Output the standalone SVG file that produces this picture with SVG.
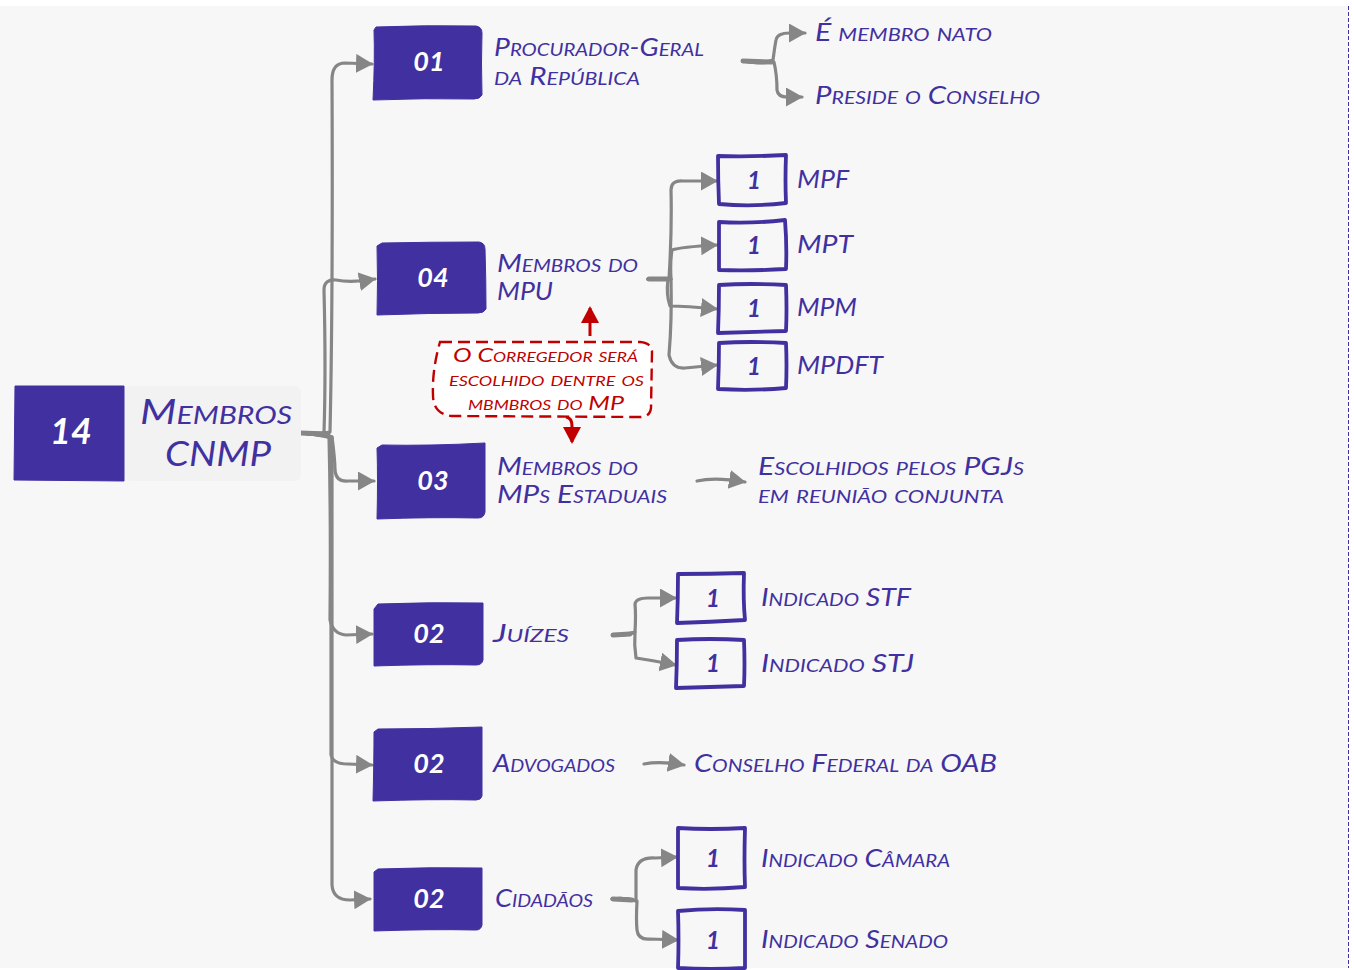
<svg xmlns="http://www.w3.org/2000/svg" width="1354" height="970" viewBox="0 0 1354 970">
<style>
.fill{fill:#4130a0;stroke:#4130a0;stroke-width:1}
.box{fill:none;stroke:#4130a0;stroke-width:3.8;stroke-linejoin:round}
.c{fill:none;stroke:#868686;stroke-width:3.2;stroke-linecap:round;stroke-linejoin:round;marker-end:url(#ah)}
.j{fill:none;stroke:#868686;stroke-width:5;stroke-linecap:round}
.r{fill:none;stroke:#c00000;stroke-width:3;marker-end:url(#rh)}
text{font-family:"Lato","Open Sans","Liberation Sans",sans-serif;font-style:italic;font-variant:small-caps;fill:#4130a0;font-size:25px}
.n{fill:#fff;font-weight:700;text-anchor:middle;font-variant:normal;font-size:27px}
.d{font-weight:700;text-anchor:middle;font-variant:normal;font-size:24px}
.t{font-size:35px;font-weight:400}
.rt{fill:#c00000;font-size:20px}
</style>
<defs>
<marker id="ah" markerUnits="userSpaceOnUse" markerWidth="20" markerHeight="22" refX="16" refY="9.500" orient="auto"><path d="M0 0L17 9.500L0 19Z" fill="#868686"/></marker>
<marker id="rh" markerUnits="userSpaceOnUse" markerWidth="20" markerHeight="20" refX="15" refY="9" orient="auto"><path d="M0 0L17 9L0 18Z" fill="#c00000"/></marker>
</defs>
<rect x="0" y="6" width="1348" height="962" fill="#f7f7f7"/>
<line x1="1348.500" y1="6" x2="1348.500" y2="968" stroke="#4130a0" stroke-width="1" stroke-dasharray="4 2"/>
<g id="connectors">
<path class="c" d="M300 433Q318 435 330 432Q333 300 332 80Q332 63 345 63L372 64"/>
<path class="c" d="M300 433Q315 434 324 433Q326 370 324 290Q324 279 336 280Q352 283 375 279"/>
<path class="c" d="M300 433Q322 432 332 437Q335 460 335 470Q336 482 348 481L374 481"/>
<path class="c" d="M300 433Q320 435 329 436Q331 520 330 620Q333 634 346 635L372 634"/>
<path class="c" d="M300 433Q320 435 331 438Q331 600 331 755Q333 764 348 764L372 765"/>
<path class="c" d="M300 433Q320 435 332 437Q331 700 332 885Q333 900 350 900L370 899"/>
<path class="c" d="M743 61Q760 65 773 60Q775 45 776 40Q777 33 790 33L805 33"/>
<path class="c" d="M743 61Q760 64 774 62Q777 75 777 90Q778 98 790 97L802 97"/>
<path class="c" d="M648 279L669 279Q672 230 671 190Q671 180 683 181L717 181"/>
<path class="c" d="M648 279L671 279Q670 262 672 250Q680 247 717 245"/>
<path class="c" d="M648 279L668 279Q666 295 670 306Q685 306 717 309"/>
<path class="c" d="M648 279L671 279Q672 320 669 355Q672 369 685 368L717 365"/>
<path class="c" d="M613 635Q625 636 635 632Q636 615 635 604Q636 598 648 598L676 598"/>
<path class="c" d="M613 635Q625 636 635 632Q634 645 636 658Q650 660 676 665"/>
<path class="c" d="M697 481Q715 477 745 482"/>
<path class="c" d="M644 764Q660 761 684 765"/>
<path class="c" d="M612 899Q625 897 636 901Q636 880 636 870Q638 857 655 858L677 857"/>
<path class="c" d="M612 899Q625 897 637 901Q636 920 637 930Q638 940 650 939L678 940"/>
<path class="j" d="M300 433L328 434M743 61L772 62M649 279L670 279M613 635L630 634M613 899L632 900"/>
<path class="r" d="M590 336L590 308"/>
<path class="r" d="M566 417Q572 418 572 426L572 442"/>
</g>
<g id="root">
<rect x="124" y="386" width="177" height="95" rx="7" fill="#f2f2f2"/>
<path class="fill" d="M15 386L124 386L124 481L14 480Z"/>
<text class="n" x="71" y="444" style="font-size:36px">14</text>
<text class="t" x="140" y="424" textLength="152" lengthAdjust="spacingAndGlyphs">Membros</text>
<text class="t" x="165" y="466" textLength="106" lengthAdjust="spacingAndGlyphs">CNMP</text>
</g>
<g id="n01"><path class="fill" d="M376 27Q425 25 476 26Q482 27 482 33Q481 62 482 95Q480 99 474 99Q425 98 373 100Q375 60 374 30Z"/><text class="n" x="429" y="71">01</text>
<text x="494" y="56" textLength="210" lengthAdjust="spacingAndGlyphs">Procurador-Geral</text><text x="494" y="85" textLength="146" lengthAdjust="spacingAndGlyphs">da República</text></g>
<g id="n04"><path class="fill" d="M382 243Q430 242 479 242Q485 243 485 249Q486 280 486 309Q484 313 478 313Q430 313 377 315Q378 280 377 246Z"/><text class="n" x="433" y="287">04</text>
<text x="497" y="272" textLength="141" lengthAdjust="spacingAndGlyphs">Membros do</text><text x="497" y="300" textLength="56" lengthAdjust="spacingAndGlyphs">MPU</text></g>
<g id="n03"><path class="fill" d="M382 445Q430 446 485 443Q485 480 485 512Q484 518 478 518Q430 517 377 519Q378 480 377 448Z"/><text class="n" x="433" y="490">03</text>
<text x="497" y="475" textLength="141" lengthAdjust="spacingAndGlyphs">Membros do</text><text x="497" y="503" textLength="170" lengthAdjust="spacingAndGlyphs">MPs Estaduais</text></g>
<g id="n02a"><path class="fill" d="M378 604Q430 602 483 603Q483 630 483 660Q482 665 476 665Q430 664 374 666Q374 630 374 609Z"/><text class="n" x="429" y="643">02</text>
<text x="493" y="642" textLength="76" lengthAdjust="spacingAndGlyphs">Juízes</text></g>
<g id="n02b"><path class="fill" d="M378 729Q430 729 482 727Q482 760 482 796Q481 800 476 800Q430 799 373 801Q374 760 374 732Z"/><text class="n" x="429" y="773">02</text>
<text x="493" y="772" textLength="122" lengthAdjust="spacingAndGlyphs">Advogados</text></g>
<g id="n02c"><path class="fill" d="M378 869Q430 867 482 868Q482 900 482 925Q481 930 476 930Q430 929 374 931Q374 900 374 872Z"/><text class="n" x="429" y="908">02</text>
<text x="495" y="907" textLength="98" lengthAdjust="spacingAndGlyphs">Cidadãos</text></g>
<g id="l1"><text x="815" y="41" textLength="177" lengthAdjust="spacingAndGlyphs">É membro nato</text></g>
<g id="l2"><text x="815" y="104" textLength="225" lengthAdjust="spacingAndGlyphs">Preside o Conselho</text></g>
<g id="mpf"><path class="box" d="M718 156Q750 157 786 155Q785 180 786 203Q752 207 719 204Q718 180 718 156Z"/><text class="d" x="754" y="189">1</text><text x="797" y="188" textLength="52" lengthAdjust="spacingAndGlyphs">MPF</text></g>
<g id="mpt"><path class="box" d="M719 222Q750 224 785 220Q787 245 786 269Q752 271 719 270Q719 245 719 222Z"/><text class="d" x="754" y="254">1</text><text x="797" y="253" textLength="56" lengthAdjust="spacingAndGlyphs">MPT</text></g>
<g id="mpm"><path class="box" d="M719 285Q750 283 786 285Q787 310 786 331Q752 332 718 333Q719 310 719 285Z"/><text class="d" x="754" y="317">1</text><text x="797" y="316" textLength="60" lengthAdjust="spacingAndGlyphs">MPM</text></g>
<g id="mpdft"><path class="box" d="M719 343Q750 341 786 343Q787 365 786 388Q752 391 718 389Q719 365 719 343Z"/><text class="d" x="754" y="375">1</text><text x="797" y="374" textLength="86" lengthAdjust="spacingAndGlyphs">MPDFT</text></g>
<g id="corregedor">
<path d="M440 342L640 342Q652 343 652 352L651 408Q650 417 640 417L452 416Q433 414 433 395Q432 370 440 342Z" fill="#fff" stroke="#c00000" stroke-width="2.400" stroke-dasharray="12 6"/>
<text class="rt" x="453" y="362" textLength="185" lengthAdjust="spacingAndGlyphs">O Corregedor será</text>
<text class="rt" x="449" y="386" textLength="195" lengthAdjust="spacingAndGlyphs">escolhido dentre os</text>
<text class="rt" x="468" y="410" textLength="156" lengthAdjust="spacingAndGlyphs">mbmbros do MP</text>
</g>
<g id="esc"><text x="758" y="475" textLength="266" lengthAdjust="spacingAndGlyphs">Escolhidos pelos PGJs</text><text x="758" y="503" textLength="246" lengthAdjust="spacingAndGlyphs">em reunião conjunta</text></g>
<g id="stf"><path class="box" d="M678 574Q710 574 744 573Q743 600 745 620Q710 622 677 623Q678 600 678 574Z"/><text class="d" x="713" y="607">1</text><text x="761" y="606" textLength="150" lengthAdjust="spacingAndGlyphs">Indicado STF</text></g>
<g id="stj"><path class="box" d="M677 640Q710 638 744 640Q745 665 744 686Q710 687 676 688Q677 665 677 640Z"/><text class="d" x="713" y="672">1</text><text x="761" y="672" textLength="153" lengthAdjust="spacingAndGlyphs">Indicado STJ</text></g>
<g id="oab"><text x="694" y="772" textLength="303" lengthAdjust="spacingAndGlyphs">Conselho Federal da OAB</text></g>
<g id="camara"><path class="box" d="M678 828Q710 830 745 828Q744 860 745 887Q710 890 678 888Q678 860 678 828Z"/><text class="d" x="713" y="867">1</text><text x="761" y="867" textLength="189" lengthAdjust="spacingAndGlyphs">Indicado Câmara</text></g>
<g id="senado"><path class="box" d="M678 911Q710 908 745 910Q745 940 745 968Q710 970 678 968Q679 940 678 911Z"/><text class="d" x="713" y="949">1</text><text x="761" y="948" textLength="187" lengthAdjust="spacingAndGlyphs">Indicado Senado</text></g>
</svg>
